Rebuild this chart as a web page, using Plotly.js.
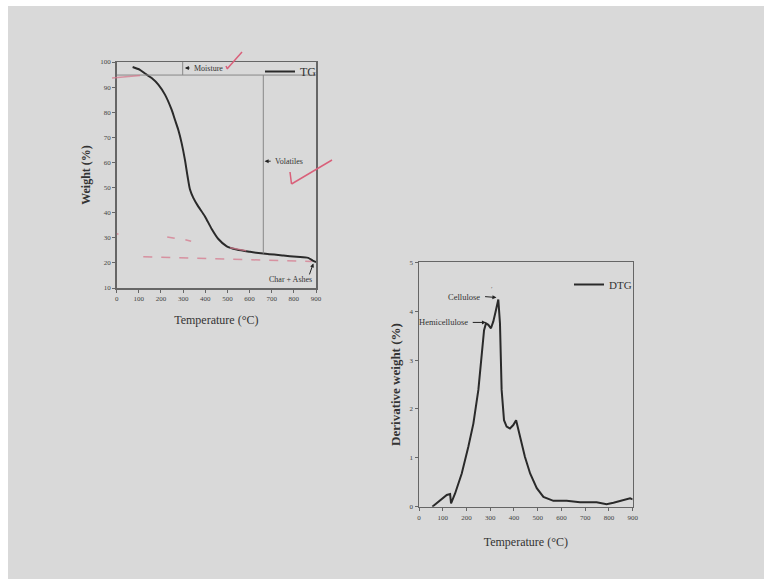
<!DOCTYPE html>
<html>
<head>
<meta charset="utf-8">
<script src="https://cdn.plot.ly/plotly-3.0.1.min.js"></script>
<style>
html,body{margin:0;padding:0;background:#ffffff;}
#bg{position:absolute;left:8px;top:6px;width:756px;height:573px;background:#d9d9d9;}
#chart{position:absolute;left:0;top:0;width:764px;height:579px;}
</style>
</head>
<body>
<div id="bg"></div>
<div id="chart"></div>
<script>
// TG curve: temperature (°C) vs weight (%)
const tgTemp   = [72, 105, 128, 158, 188, 218, 248, 263, 278, 293, 308, 320, 331, 346, 368, 398, 429, 459, 497, 542, 602, 662, 753, 813, 865, 885, 900];
const tgWeight = [98.0, 96.9, 95.4, 93.6, 91.0, 87.0, 81.0, 77.0, 73.0, 67.8, 61.1, 54.5, 49.2, 45.9, 42.5, 38.6, 33.5, 29.5, 26.6, 25.3, 24.4, 23.7, 22.9, 22.4, 22.0, 20.9, 20.3];

// DTG curve: temperature (°C) vs derivative weight (%)
const dtgTemp = [56, 74, 95, 117, 131, 135, 152, 180, 208, 229, 250, 264, 274, 282, 292, 303, 313, 324, 334, 341, 348, 358, 369, 383, 397, 409, 425, 446, 468, 496, 524, 566, 622, 678, 748, 790, 819, 861, 889, 900];
const dtgVal  = [0, 0.07, 0.17, 0.24, 0.26, 0.07, 0.27, 0.68, 1.23, 1.70, 2.39, 3.07, 3.61, 3.75, 3.72, 3.65, 3.79, 4.02, 4.24, 3.75, 2.39, 1.77, 1.64, 1.60, 1.67, 1.77, 1.43, 1.02, 0.68, 0.38, 0.20, 0.12, 0.12, 0.09, 0.09, 0.05, 0.08, 0.14, 0.17, 0.15];

const tempTicks = [0, 100, 200, 300, 400, 500, 600, 700, 800, 900];
const tgTicks = [10, 20, 30, 40, 50, 60, 70, 80, 90, 100];
const dtgTicks = [0, 1, 2, 3, 4, 5];

const W = 764, H = 579;
const px = v => v / W;
const py = v => 1 - v / H;

const SERIF = 'Liberation Serif, Times New Roman, serif';
const AX = '#666';
const PINK = '#d9607a';
const PINK2 = 'rgba(214,120,140,0.75)';

const axisBase = {
  showline: true, linecolor: AX, linewidth: 1.5, mirror: true,
  ticks: 'outside', ticklen: 3, tickwidth: 1, tickcolor: AX,
  tickfont: {family: SERIF, size: 7, color: '#444'},
  showgrid: false, zeroline: false, fixedrange: true
};

const traces = [
  {x: tgTemp, y: tgWeight, name: 'TG', type: 'scatter', mode: 'lines',
   line: {color: '#2a2a2a', width: 2, shape: 'spline', smoothing: 0.7},
   xaxis: 'x', yaxis: 'y', legend: 'legend'},
  {x: dtgTemp, y: dtgVal, name: 'DTG', type: 'scatter', mode: 'lines',
   line: {color: '#2a2a2a', width: 2},
   xaxis: 'x2', yaxis: 'y2', legend: 'legend2'}
];

const annFont = {family: SERIF, size: 8, color: '#333'};

const annotations = [
  // TG labels
  {xref: 'x', yref: 'y', x: 308, y: 97.6, ax: 336, ay: 97.6, axref: 'x', ayref: 'y',
   showarrow: true, arrowhead: 2, arrowsize: 0.8, arrowwidth: 1, arrowcolor: '#222', text: ''},
  {xref: 'x', yref: 'y', x: 338, y: 97.6, text: 'Moisture', showarrow: false, xanchor: 'left', font: annFont},
  {xref: 'x', yref: 'y', x: 668, y: 60.5, ax: 702, ay: 60.5, axref: 'x', ayref: 'y',
   showarrow: true, arrowhead: 2, arrowsize: 0.8, arrowwidth: 1, arrowcolor: '#222', text: ''},
  {xref: 'x', yref: 'y', x: 704, y: 60.5, text: 'Volatiles', showarrow: false, xanchor: 'left', font: annFont},
  {xref: 'x', yref: 'y', x: 888, y: 19.8, ax: 868, ay: 14.8, axref: 'x', ayref: 'y',
   showarrow: true, arrowhead: 2, arrowsize: 0.8, arrowwidth: 1, arrowcolor: '#222', text: ''},
  {xref: 'x', yref: 'y', x: 787, y: 13.2, text: 'Char + Ashes', showarrow: false, xanchor: 'center', font: annFont},
  // DTG labels
  {xref: 'x2', yref: 'y2', x: 326, y: 4.28, ax: 272, ay: 4.30, axref: 'x2', ayref: 'y2',
   showarrow: true, arrowhead: 2, arrowsize: 0.8, arrowwidth: 1, arrowcolor: '#222', text: ''},
  {xref: 'x2', yref: 'y2', x: 266, y: 4.30, text: 'Cellulose', showarrow: false, xanchor: 'right', font: {family: SERIF, size: 8.5, color: '#333'}},
  {xref: 'x2', yref: 'y2', x: 306, y: 4.46, text: '\u2032', showarrow: false, font: {family: SERIF, size: 7, color: '#555'}},
  {xref: 'x2', yref: 'y2', x: 282, y: 3.77, ax: 220, ay: 3.77, axref: 'x2', ayref: 'y2',
   showarrow: true, arrowhead: 2, arrowsize: 0.8, arrowwidth: 1, arrowcolor: '#222', text: ''},
  {xref: 'x2', yref: 'y2', x: 214, y: 3.77, text: 'Hemicellulose', showarrow: false, xanchor: 'right', font: {family: SERIF, size: 8.5, color: '#333'}}
];

const shapes = [
  // TG header box lines
  {type: 'line', xref: 'x', yref: 'y', x0: 0, x1: 900, y0: 94.8, y1: 94.8, line: {color: '#888', width: 1}},
  {type: 'line', xref: 'x', yref: 'y', x0: 298, x1: 298, y0: 94.8, y1: 100, line: {color: '#888', width: 1}},
  {type: 'line', xref: 'x', yref: 'y', x0: 662, x1: 662, y0: 23.7, y1: 94.8, line: {color: '#888', width: 1}},
  // handwritten pink marks
  {type: 'line', xref: 'paper', yref: 'paper', x0: px(112), y0: py(78), x1: px(140), y1: py(75.5), line: {color: PINK2, width: 1.5}},
  {type: 'line', xref: 'paper', yref: 'paper', x0: px(227), y0: py(69), x1: px(242), y1: py(52), line: {color: PINK, width: 1.5}},
  {type: 'line', xref: 'paper', yref: 'paper', x0: px(226), y0: py(66), x1: px(227.5), y1: py(69), line: {color: PINK, width: 1.5}},
  {type: 'line', xref: 'paper', yref: 'paper', x0: px(290), y0: py(172), x1: px(291.5), y1: py(184), line: {color: PINK, width: 1.5}},
  {type: 'line', xref: 'paper', yref: 'paper', x0: px(291.5), y0: py(184), x1: px(332), y1: py(160), line: {color: PINK, width: 1.5}},
  {type: 'line', xref: 'x', yref: 'y', x0: 120, x1: 880, y0: 22.4, y1: 20.6, line: {color: PINK2, width: 1.5, dash: 'dash'}},
  {type: 'line', xref: 'x', yref: 'y', x0: 228, x1: 262, y0: 30.3, y1: 29.8, line: {color: PINK2, width: 1.5}},
  {type: 'line', xref: 'x', yref: 'y', x0: 310, x1: 336, y0: 29.2, y1: 28.6, line: {color: PINK2, width: 1.5}},
  {type: 'line', xref: 'x', yref: 'y', x0: 512, x1: 585, y0: 26.0, y1: 24.8, line: {color: PINK2, width: 1.5}},
  {type: 'line', xref: 'x', yref: 'y', x0: 0, x1: 8, y0: 31.6, y1: 31.4, line: {color: PINK2, width: 1.5}}
];

const layout = {
  width: W, height: H,
  margin: {l: 0, r: 0, t: 0, b: 0},
  paper_bgcolor: 'rgba(0,0,0,0)',
  plot_bgcolor: 'rgba(0,0,0,0)',
  font: {family: SERIF, color: '#333'},
  xaxis: Object.assign({}, axisBase, {
    domain: [px(116.7), px(316)], range: [0, 900], tickvals: tempTicks, anchor: 'y',
    title: {text: 'Temperature (\u00B0C)', font: {family: SERIF, size: 12, color: '#333'}, standoff: 13}
  }),
  yaxis: Object.assign({}, axisBase, {
    domain: [py(288), py(62)], range: [10, 100], tickvals: tgTicks, anchor: 'x',
    title: {text: 'Weight (%)', font: {family: SERIF, size: 12, color: '#333', weight: 'bold'}, standoff: 7}
  }),
  xaxis2: Object.assign({}, axisBase, {
    domain: [px(419), px(632.7)], range: [0, 900], tickvals: tempTicks, anchor: 'y2',
    title: {text: 'Temperature (\u00B0C)', font: {family: SERIF, size: 12, color: '#333'}, standoff: 17}
  }),
  yaxis2: Object.assign({}, axisBase, {
    domain: [py(506.7), py(262.3)], range: [0, 5], tickvals: dtgTicks, anchor: 'x2',
    title: {text: 'Derivative weight (%)', font: {family: SERIF, size: 13, color: '#333', weight: 'bold'}, standoff: 6}
  }),
  showlegend: true,
  legend: {x: px(322), y: py(57), xanchor: 'right', yanchor: 'top', bgcolor: 'rgba(0,0,0,0)',
           font: {family: SERIF, size: 12, color: '#333'}, itemwidth: 30, tracegroupgap: 0},
  legend2: {x: px(637), y: py(270), xanchor: 'right', yanchor: 'top', bgcolor: 'rgba(0,0,0,0)',
           font: {family: SERIF, size: 11, color: '#333'}, itemwidth: 30, tracegroupgap: 0},
  annotations: annotations,
  shapes: shapes
};

Plotly.newPlot('chart', traces, layout, {staticPlot: true, displayModeBar: false});
</script>
</body>
</html>
